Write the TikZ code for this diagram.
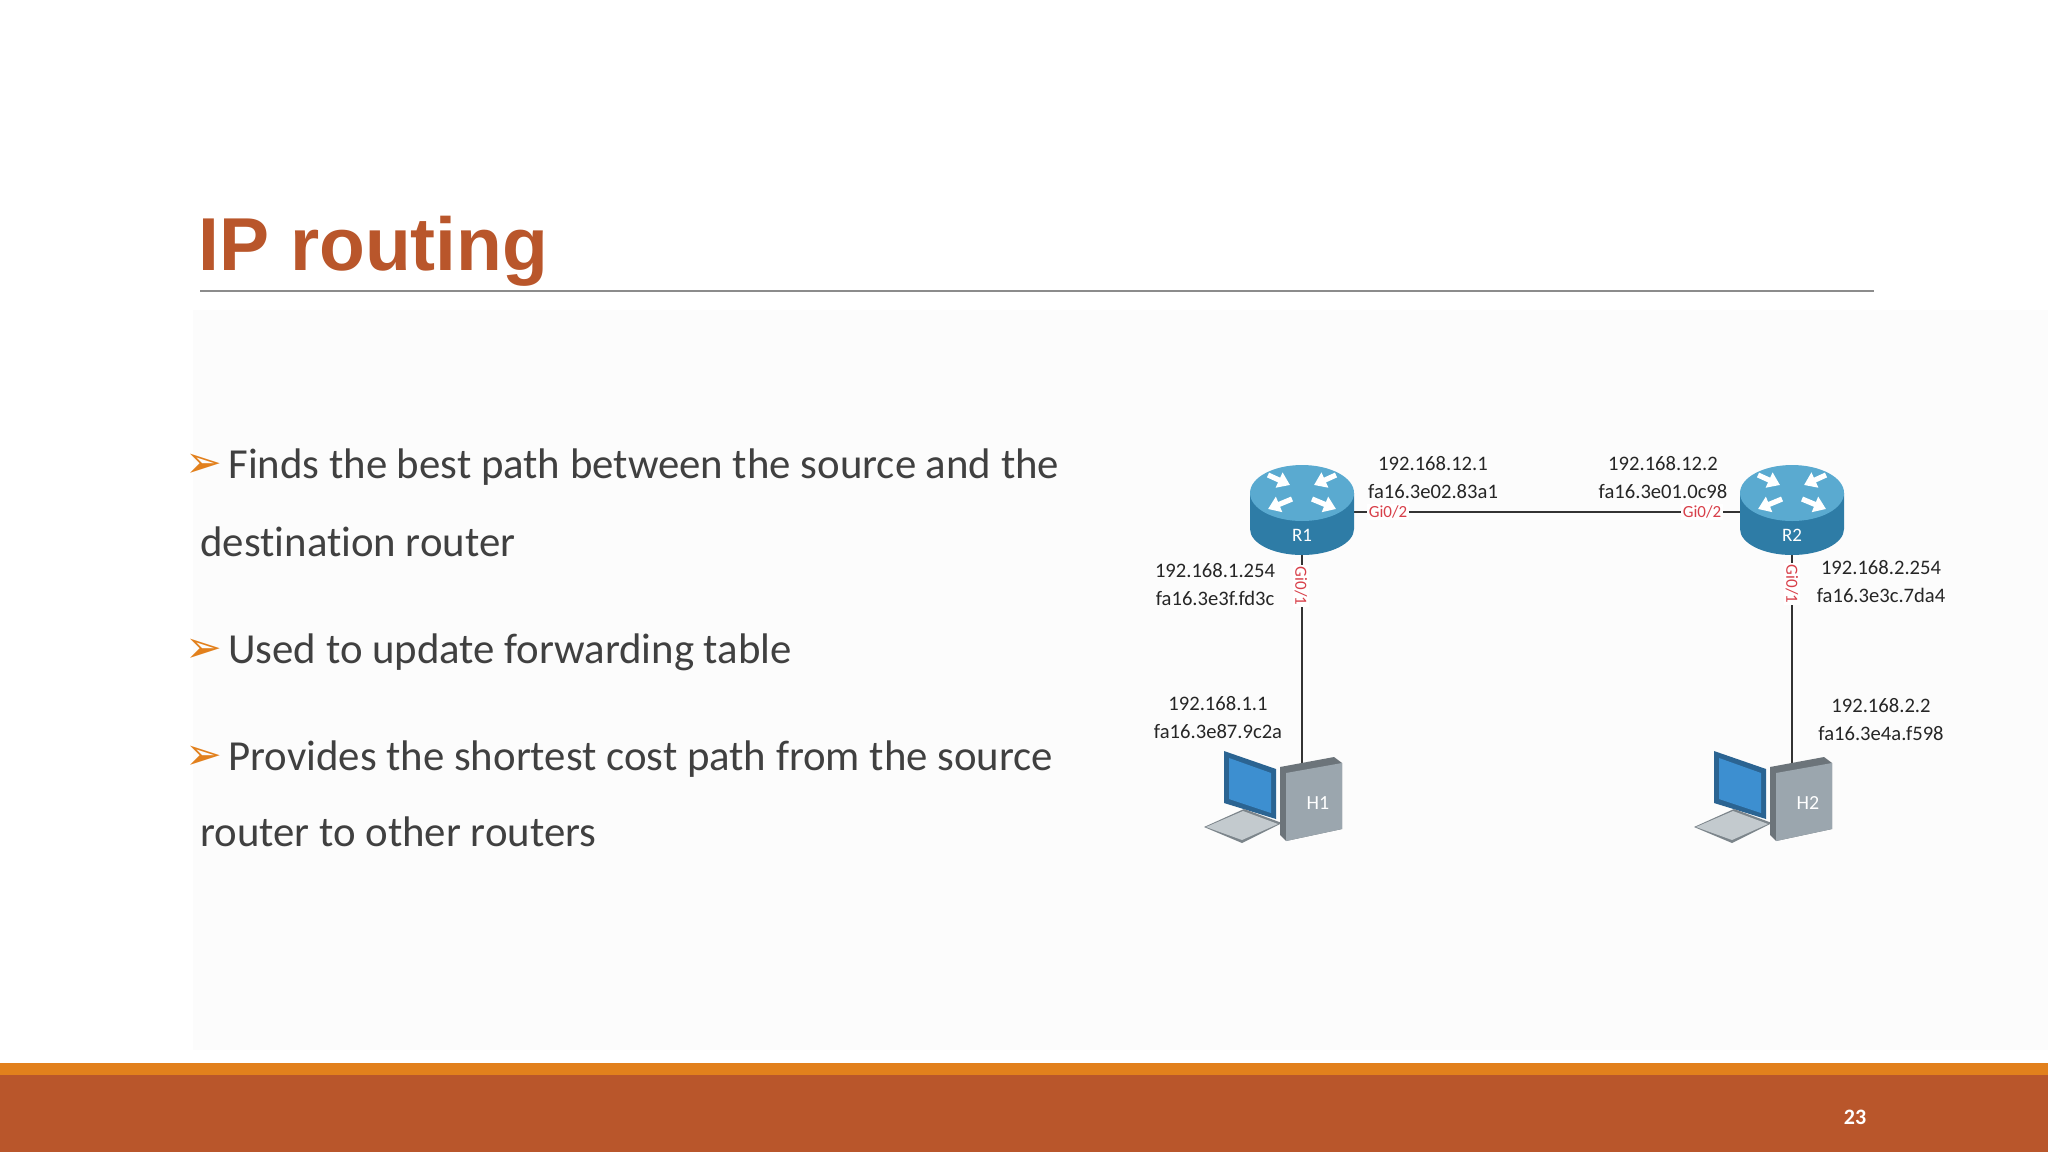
\documentclass[tikz,border=0pt]{standalone}
\usepackage{fontspec}
\setmainfont{Carlito}[Ligatures=NoCommon]
\newfontfamily\arialf{Liberation Sans}
\newfontfamily\djv{DejaVu Sans}
\usetikzlibrary{arrows.meta}
\definecolor{brick}{HTML}{B9562B}
\definecolor{amber}{HTML}{E2801C}
\definecolor{rtop}{HTML}{5AAAD0}
\definecolor{rbody}{HTML}{2E7CA6}
\definecolor{pcgray}{HTML}{9BA6AE}
\definecolor{scr}{HTML}{3D8FD0}
\definecolor{portred}{HTML}{D8404A}
\tikzset{
  bullettext/.style={anchor=base west,inner sep=0pt,font=\fontsize{21.4}{25}\selectfont,text=black!75},
  bulletmark/.style={anchor=base west,inner sep=0pt,font=\djv\fontsize{22}{24}\selectfont,text=amber},
  addr/.style={align=center,inner sep=0pt,font=\fontsize{10.3}{14}\selectfont,text=black!85},
  port/.style={inner sep=1pt,fill=white,font=\fontsize{8.5}{9}\selectfont,text=portred},
  link/.style={draw=black!80,line width=0.8pt},
  rarrow/.style={white,line width=2.6pt,-{Triangle[length=6pt,width=8pt]}}
}
\newcommand{\routericon}[3]{%
  \begin{scope}[shift={(#1)}]
    \fill[rbody] (-52,-16) -- (-52,20) arc[start angle=180,end angle=0,x radius=52,y radius=26] -- (52,-16) -- cycle;
    \fill[rtop] (0,-16) ellipse[x radius=52,y radius=28];
    \draw[rarrow] (-34,-34) -- (-12,-24);
    \draw[rarrow] (34,-34) -- (12,-24);
    \draw[rarrow] (-10,-10) -- (-34,0);
    \draw[rarrow] (10,-10) -- (34,0);
    \node[text=white,inner sep=0pt,font=\fontsize{9.5}{10}\selectfont] at (0,26) {#3};
  \end{scope}}
\newcommand{\pcicon}[2]{%
  \begin{scope}[shift={(#1)}]
    \fill[scr!70!black] (-66,-44) -- (-14,-26) -- (-14,24) -- (-66,8) -- cycle;
    \fill[scr] (-61,-37) -- (-19,-22) -- (-19,18) -- (-61,4) -- cycle;
    \fill[pcgray!80!black] (-86,32) -- (-46,14) -- (-8,28) -- (-48,48) -- cycle;
    \fill[pcgray!60] (-84,32) -- (-47,16) -- (-12,29) -- (-48,45) -- cycle;
    \fill[pcgray!70!black] (-10,-28) -- (44,-38) -- (52,-32) -- (52,34) -- (-4,46) -- (-10,40) -- cycle;
    \fill[pcgray] (-4,-22) -- (52,-32) -- (52,34) -- (-4,46) -- cycle;
    \node[text=white,inner sep=0pt,font=\fontsize{10}{10}\selectfont] at (28,8) {#2};
  \end{scope}}
\begin{document}
\begin{tikzpicture}[x=0.5pt,y=-0.5pt]
\useasboundingbox (0,0) rectangle (2048,1152);
\fill[white] (0,0) rectangle (2048,1152);
\fill[black!1.2] (193,310) rectangle (2048,1050);
% title
\node[anchor=base west,inner sep=0pt,font=\arialf\bfseries\fontsize{37.5}{42}\selectfont,text=brick] (title) at (198,270) {IP routing};
\draw[black!45,line width=0.6pt] (200,291) -- (1874,291);
% footer
\fill[amber] (0,1063) rectangle (2048,1075);
\fill[brick] (0,1075) rectangle (2048,1152);
\node[text=white,font=\bfseries\fontsize{11}{12}\selectfont] (pg) at (1855,1117) {23};
% bullets
\node[bulletmark] (m1) at (185,477) {➢};
\node[bullettext] (b1) at (228,478) {Finds the best path between the source and the};
\node[bullettext] (b1b) at (200,556) {destination router};
\node[bulletmark] (m2) at (185,662) {➢};
\node[bullettext] (b2) at (228,663) {Used to update forwarding table};
\node[bulletmark] (m3) at (185,769) {➢};
\node[bullettext] (b3) at (228,770) {Provides the shortest cost path from the source};
\node[bullettext] (b3b) at (200,846) {router to other routers};
% network
\node[minimum width=104pt,minimum height=90pt,inner sep=0pt] (R1) at (1302,509) {};
\node[minimum width=104pt,minimum height=90pt,inner sep=0pt] (R2) at (1792,509) {};
\coordinate (R1e) at (1354,512);
\coordinate (R2w) at (1740,512);
\coordinate (R1s) at (1302,552);
\coordinate (R2s) at (1792,552);
\coordinate (H1t) at (1302,768);
\coordinate (H2t) at (1792,768);
\draw[link] (R1e) -- (R2w);
\draw[link] (R1s) -- (H1t);
\draw[link] (R2s) -- (H2t);
\routericon{1302,509}{R1}{R1}
\routericon{1792,509}{R2}{R2}
\pcicon{1290,795}{H1}
\pcicon{1780,795}{H2}
\node[port] (p1) at (1388,512) {Gi0/2};
\node[port] (p2) at (1702,512) {Gi0/2};
\node[port,rotate=-90] (p3) at (1301,586) {Gi0/1};
\node[port,rotate=-90] (p4) at (1792,584) {Gi0/1};
\node[addr] (a1) at (1433,478) {192.168.12.1\\fa16.3e02.83a1};
\node[addr] (a2) at (1663,478) {192.168.12.2\\fa16.3e01.0c98};
\node[addr] (a3) at (1215,585) {192.168.1.254\\fa16.3e3f.fd3c};
\node[addr] (a4) at (1881,582) {192.168.2.254\\fa16.3e3c.7da4};
\node[addr] (a5) at (1218,718) {192.168.1.1\\fa16.3e87.9c2a};
\node[addr] (a6) at (1881,720) {192.168.2.2\\fa16.3e4a.f598};
\end{tikzpicture}
\end{document}
